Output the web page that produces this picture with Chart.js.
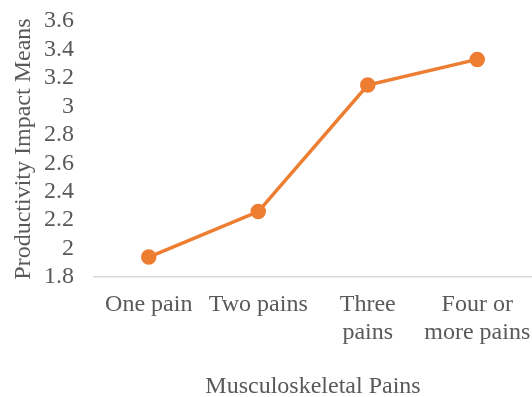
<!DOCTYPE html>
<html lang="en">
<head>
  <meta charset="UTF-8">
  <title>Productivity Impact Means</title>
  <script src="https://cdn.jsdelivr.net/npm/chart.js"></script>
  <style>
    html, body { margin: 0; padding: 0; background: #fff; }
    #wrap { width: 532px; height: 397px; }
  </style>
</head>
<body>
  <div id="wrap"><canvas id="grafico"></canvas></div>
  <script>
    const categorias = [["One pain"], ["Two pains"], ["Three", "pains"], ["Four or", "more pains"]];
    const medias = [1.94, 2.26, 3.15, 3.33];
    const yMin = 1.8, yMax = 3.6, yPaso = 0.2;

    const gris = '#595959';
    const familia = '"Liberation Serif", "Times New Roman", serif';
    const fuente = { family: familia, size: 24, lineHeight: 1.15 };

    new Chart(document.getElementById('grafico'), {
      type: 'line',
      data: {
        labels: categorias,
        datasets: [{
          data: medias,
          borderColor: '#ED7D31',
          backgroundColor: '#ED7D31',
          borderWidth: 3.5,
          pointRadius: 6,
          pointHoverRadius: 6,
          tension: 0,
          clip: false
        }]
      },
      options: {
        responsive: true,
        maintainAspectRatio: false,
        animation: false,
        layout: { autoPadding: false, padding: { top: 21, right: 0, bottom: 0, left: 0 } },
        plugins: { legend: { display: false }, tooltip: { enabled: false } },
        scales: {
          x: {
            offset: true,
            grid: { display: false, drawTicks: false },
            border: { display: true, color: '#d9d9d9', width: 1.5 },
            ticks: { color: gris, font: fuente, padding: 14, maxRotation: 0, autoSkip: false },
            title: { display: true, text: 'Musculoskeletal Pains', color: gris,
                     font: { family: familia, size: 24, lineHeight: 0.85 }, padding: { top: 0, bottom: 0 } },
            afterFit: s => { s.height = 120; s.paddingLeft = 0; s.paddingRight = 0; }
          },
          y: {
            min: yMin, max: yMax,
            grid: { display: false, drawTicks: false },
            border: { display: false },
            ticks: {
              stepSize: yPaso, autoSkip: false, color: gris, font: fuente, padding: 20,
              callback: v => String(Math.round(v * 10) / 10)
            },
            title: { display: true, text: 'Productivity Impact Means', color: gris, font: fuente, padding: { top: 10, bottom: 0 } },
            afterFit: s => { s.width = 94; s.paddingTop = 0; s.paddingBottom = 0; }
          }
        }
      }
    });
  </script>
</body>
</html>
